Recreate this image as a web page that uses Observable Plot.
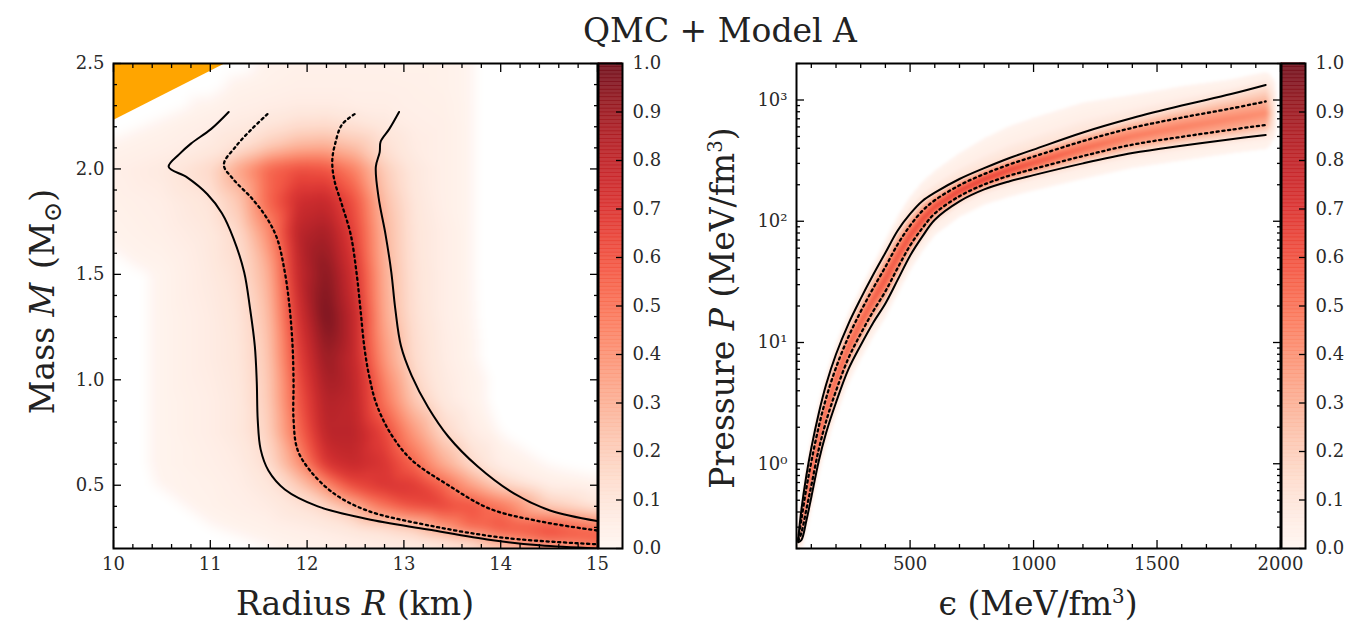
<!DOCTYPE html>
<html><head><meta charset="utf-8">
<script src="https://cdn.jsdelivr.net/npm/d3@7"></script>
<script src="https://cdn.jsdelivr.net/npm/@observablehq/plot@0.6"></script>
<style>
body{margin:0;background:#fff;}
#root{position:relative;width:1353px;height:630px;overflow:hidden;font-family:"DejaVu Serif",serif;color:#222;}
.lbl{position:absolute;font-size:33px;white-space:nowrap;line-height:33px;}
.lbl sup{font-size:0.6em;line-height:0;}
.lbl sub{font-size:0.75em;line-height:0;}
.lbl .par{margin:0 3px;}
svg{max-width:none !important;}
svg text, svg g{font-family:"DejaVu Serif",serif !important;}
svg text{font-size:18px !important;fill:#2a2a2a;}
</style></head><body><div id="root"></div>
<script>
// ---------------- Left panel data: mass-radius ----------------
const rDomain = [10, 15];
const mDomain = [0.2, 2.5];
const rTicks = [10, 11, 12, 13, 14, 15];
const mTicks = [0.5, 1.0, 1.5, 2.0, 2.5];
// density grid (rows = mass, columns = radius)
const rCols = [10, 10.5, 11, 11.3, 11.6, 11.9, 12.2, 12.5, 12.8, 13.1, 13.4, 13.7, 14, 14.5, 15];
const mRows = [2.5, 2.4, 2.3, 2.2, 2.1, 2.0, 1.85, 1.7, 1.5, 1.3, 1.1, 0.9, 0.75, 0.6, 0.5, 0.4, 0.3, 0.25, 0.2];
const mrDensity = [
  [0, 0, 0, 0, 0.02, 0.03, 0.03, 0.03, 0.03, 0.03, 0.03, 0.013, 0, 0, 0],
  [0, 0, 0, 0.02, 0.03, 0.04, 0.04, 0.04, 0.04, 0.035, 0.03, 0.013, 0, 0, 0],
  [0, 0, 0.02, 0.04, 0.05, 0.06, 0.06, 0.05, 0.05, 0.04, 0.035, 0.013, 0, 0, 0],
  [0, 0.02, 0.05, 0.07, 0.1, 0.14, 0.15, 0.12, 0.08, 0.05, 0.04, 0.013, 0, 0, 0],
  [0.02, 0.04, 0.07, 0.12, 0.22, 0.3, 0.32, 0.25, 0.12, 0.06, 0.04, 0.013, 0, 0, 0],
  [0.04, 0.07, 0.15, 0.35, 0.55, 0.62, 0.6, 0.45, 0.2, 0.08, 0.04, 0.013, 0, 0, 0],
  [0.03, 0.05, 0.1, 0.22, 0.55, 0.75, 0.78, 0.6, 0.25, 0.09, 0.04, 0.013, 0, 0, 0],
  [0.02, 0.04, 0.08, 0.15, 0.42, 0.82, 0.88, 0.65, 0.28, 0.1, 0.05, 0.013, 0, 0, 0],
  [0, 0.016, 0.07, 0.12, 0.3, 0.78, 0.96, 0.72, 0.3, 0.11, 0.05, 0.013, 0, 0, 0],
  [0, 0.016, 0.06, 0.1, 0.25, 0.72, 1.0, 0.78, 0.32, 0.12, 0.05, 0.014, 0, 0, 0],
  [0, 0.016, 0.06, 0.09, 0.22, 0.65, 0.92, 0.78, 0.38, 0.14, 0.06, 0.016, 0, 0, 0],
  [0, 0.016, 0.05, 0.08, 0.2, 0.58, 0.85, 0.8, 0.5, 0.22, 0.08, 0.025, 0, 0, 0],
  [0, 0.016, 0.05, 0.08, 0.18, 0.52, 0.82, 0.82, 0.65, 0.38, 0.16, 0.06, 0.01, 0, 0],
  [0, 0.016, 0.04, 0.06, 0.13, 0.38, 0.72, 0.78, 0.72, 0.55, 0.32, 0.14, 0.04, 0.01, 0],
  [0, 0.014, 0.03, 0.05, 0.09, 0.2, 0.42, 0.65, 0.72, 0.7, 0.55, 0.35, 0.18, 0.04, 0.02],
  [0, 0, 0.025, 0.04, 0.06, 0.1, 0.16, 0.3, 0.5, 0.62, 0.66, 0.62, 0.5, 0.2, 0.08],
  [0, 0, 0.01, 0.02, 0.03, 0.05, 0.07, 0.1, 0.13, 0.2, 0.38, 0.55, 0.62, 0.62, 0.5],
  [0, 0, 0, 0.01, 0.02, 0.03, 0.04, 0.06, 0.08, 0.1, 0.14, 0.22, 0.42, 0.6, 0.6],
  [0, 0, 0, 0, 0.01, 0.02, 0.03, 0.04, 0.05, 0.06, 0.08, 0.1, 0.14, 0.25, 0.4]
];
// contour lines
const outerLeftR = [11.19, 11.01, 10.80, 10.68, 10.57, 10.76, 10.97, 11.12, 11.24, 11.35, 11.41, 11.46, 11.48, 11.49, 11.52, 11.60, 11.77, 12.11, 12.62, 13.25, 13.9, 14.4, 15.0];
const outerLeftM = [2.27, 2.19, 2.12, 2.07, 2.01, 1.96, 1.88, 1.79, 1.67, 1.51, 1.34, 1.16, 0.99, 0.81, 0.67, 0.57, 0.48, 0.40, 0.34, 0.29, 0.24, 0.215, 0.2];
const innerLeftR = [11.59, 11.43, 11.27, 11.14, 11.24, 11.43, 11.58, 11.69, 11.77, 11.82, 11.85, 11.86, 11.86, 11.90, 12.03, 12.28, 12.62, 13.25, 14.05, 15.0];
const innerLeftM = [2.26, 2.19, 2.11, 2.02, 1.95, 1.86, 1.77, 1.67, 1.51, 1.34, 1.16, 0.99, 0.81, 0.67, 0.57, 0.46, 0.38, 0.31, 0.25, 0.22];
const innerRightR = [12.49, 12.36, 12.29, 12.26, 12.28, 12.36, 12.45, 12.51, 12.55, 12.59, 12.64, 12.72, 12.87, 13.08, 13.46, 13.88, 14.39, 15.0];
const innerRightM = [2.26, 2.21, 2.12, 2.04, 1.95, 1.83, 1.69, 1.51, 1.34, 1.16, 1.02, 0.88, 0.74, 0.62, 0.50, 0.39, 0.33, 0.285];
const outerRightR = [12.95, 12.85, 12.76, 12.75, 12.71, 12.74, 12.81, 12.87, 12.91, 12.97, 13.08, 13.25, 13.46, 13.76, 14.14, 14.51, 15.0];
const outerRightM = [2.27, 2.19, 2.13, 2.08, 2.01, 1.86, 1.69, 1.51, 1.34, 1.16, 1.02, 0.87, 0.73, 0.59, 0.46, 0.38, 0.33];
// excluded (causality) region
const causalR = [10, 11.16];
const causalM = [2.23, 2.5];

// ---------------- Right panel data: equation of state ----------------
const epsDomain = [40, 2000];
const pDomain = [0.2, 2000];
const epsTicks = [500, 1000, 1500, 2000];
const pTicks = [1, 10, 100, 1000];
const epsGrid      = [47, 60, 80, 100, 130, 160, 200, 250, 300, 350, 400, 450, 500, 550, 600, 700, 800, 900, 1000, 1200, 1400, 1600, 1800, 1940];
const pUpperSolid  = [0.24, 0.42, 0.8, 1.35, 2.6, 4.5, 8.0, 14.2, 23, 36, 55, 84, 115, 147, 172, 223, 274, 331, 390, 540, 710, 900, 1120, 1330];
const pUpperDotted = [0.235, 0.35, 0.63, 1.04, 2.02, 3.48, 6.2, 11.1, 18.0, 27.9, 42, 64.6, 92, 122, 149, 198, 245, 293, 341, 458, 589, 716, 851, 973];
const pLowerDotted = [0.23, 0.27, 0.42, 0.66, 1.31, 2.24, 3.99, 7.4, 11.8, 18.0, 26.4, 41.3, 63, 88, 116, 161, 201, 237, 270, 345, 428, 497, 569, 623];
const pLowerSolid  = [0.225, 0.235, 0.34, 0.53, 1.05, 1.8, 3.2, 6.0, 9.5, 14.5, 21, 33, 52, 75, 103, 146, 183, 213, 240, 300, 365, 420, 475, 515];
// density read across the band at each epsilon
const densCenter = [0.55, 0.6, 0.6, 0.6, 0.58, 0.56, 0.56, 0.56, 0.56, 0.58, 0.6, 0.6, 0.62, 0.64, 0.65, 0.67, 0.68, 0.65, 0.6, 0.53, 0.48, 0.46, 0.44, 0.42];
const densDotted = [0.38, 0.4, 0.4, 0.4, 0.38, 0.37, 0.37, 0.37, 0.37, 0.38, 0.4, 0.4, 0.41, 0.42, 0.43, 0.45, 0.46, 0.44, 0.4, 0.36, 0.33, 0.32, 0.31, 0.29];
const densSolid  = [0.1, 0.1, 0.1, 0.1, 0.1, 0.1, 0.1, 0.1, 0.1, 0.1, 0.11, 0.11, 0.12, 0.12, 0.12, 0.12, 0.12, 0.12, 0.12, 0.11, 0.1, 0.1, 0.1, 0.1];
const densHalo   = [0.025, 0.025, 0.025, 0.025, 0.03, 0.03, 0.03, 0.03, 0.03, 0.03, 0.03, 0.03, 0.035, 0.035, 0.04, 0.04, 0.04, 0.04, 0.04, 0.04, 0.035, 0.035, 0.03, 0.03];
// extent of the faint halo above the upper 95% line (decades of P)
const haloAbove  = [0.12, 0.12, 0.12, 0.12, 0.12, 0.12, 0.12, 0.12, 0.12, 0.12, 0.14, 0.16, 0.18, 0.2, 0.22, 0.26, 0.3, 0.32, 0.32, 0.3, 0.24, 0.2, 0.16, 0.14];
const bandEndEps = 1985;

const cbTicks = [0, 0.1, 0.2, 0.3, 0.4, 0.5, 0.6, 0.7, 0.8, 0.9, 1.0];

// ---------------- build ----------------
const root = document.getElementById("root");
function place(el, left, top) { el.style.position = "absolute"; el.style.left = left + "px"; el.style.top = top + "px"; root.appendChild(el); return el; }
// empty (zero) bins are left white, as in the original
const emptyBelow = 0.012;
const densityInterp = t => t < emptyBelow ? "#ffffff" : d3.interpolateReds(t);
const colorOpt = {type: "linear", domain: [0, 1], interpolate: densityInterp};
const cbColor = {type: "linear", scheme: "reds", domain: [0, 1]};
const FONT = "DejaVu Serif";
const plotStyle = {fontFamily: FONT, fontSize: "18px", color: "#222", background: "transparent", overflow: "visible"};

function frameTicks(xMajor, xMinor, yMajor, yMinor, xFmt, yFmt) {
  const blank = () => "";
  const t = {stroke: "black", strokeWidth: 1.3, label: null, tickFormat: blank};
  const txt = {tickSize: 0, tickPadding: 9, label: null, fontFamily: FONT, fontSize: 18, fill: "#2a2a2a"};
  return [
    Plot.axisX({...t, anchor: "bottom", ticks: xMajor, tickSize: -8}),
    Plot.axisX({...t, anchor: "top", ticks: xMajor, tickSize: -8}),
    Plot.axisX({...t, anchor: "bottom", ticks: xMinor, tickSize: -4}),
    Plot.axisX({...t, anchor: "top", ticks: xMinor, tickSize: -4}),
    Plot.axisY({...t, anchor: "left", ticks: yMajor, tickSize: -8}),
    Plot.axisY({...t, anchor: "right", ticks: yMajor, tickSize: -8}),
    Plot.axisY({...t, anchor: "left", ticks: yMinor, tickSize: -4}),
    Plot.axisY({...t, anchor: "right", ticks: yMinor, tickSize: -4}),
    Plot.axisX({...txt, anchor: "bottom", ticks: xMajor, tickFormat: xFmt}),
    Plot.axisY({...txt, anchor: "left", ticks: yMajor, tickFormat: yFmt})
  ];
}

// left
const leftCells = [];
mRows.forEach((m, i) => rCols.forEach((r, j) => leftCells.push({R: r, M: m, v: mrDensity[i][j]})));
const lineStyle = {x: "x", y: "y", curve: "catmull-rom", stroke: "black", strokeWidth: 2, clip: true};
const dotStyle = {...lineStyle, strokeWidth: 2.3, strokeDasharray: "2.2,3.6"};
const toPts = (xs, ys) => xs.map((x, i) => ({x, y: ys[i]}));
const rMinor = d3.range(10.2, 15, 0.2).filter(v => Math.abs(v - Math.round(v)) > 1e-6);
const mMinor = d3.range(0.3, 2.5, 0.1).filter(v => Math.abs(v * 2 - Math.round(v * 2)) > 1e-6);

const left = Plot.plot({
  width: 600, height: 630, marginLeft: 113, marginRight: 3, marginTop: 63, marginBottom: 82,
  x: {domain: rDomain}, y: {domain: mDomain}, color: colorOpt, style: plotStyle,
  marks: [
    Plot.raster(leftCells, {x: "R", y: "M", fill: "v", interpolate: "barycentric", blur: 5, opacity: 0.92}),
    Plot.areaY(toPts(causalR, causalM), {x: "x", y1: "y", y2: () => mDomain[1], fill: "orange"}),
    Plot.line(toPts(outerLeftR, outerLeftM), lineStyle),
    Plot.line(toPts(innerLeftR, innerLeftM), dotStyle),
    Plot.line(toPts(innerRightR, innerRightM), dotStyle),
    Plot.line(toPts(outerRightR, outerRightM), lineStyle),
    ...frameTicks(rTicks, rMinor, mTicks, mMinor, d => String(d), d => d.toFixed(1)),
    Plot.frame({stroke: "black", strokeWidth: 2})
  ]
});
place(left, 0, 0);

// right: density sampled across the band, between the read line positions
const lg = a => a.map(Math.log10);
const lUS = lg(pUpperSolid), lUD = lg(pUpperDotted), lLD = lg(pLowerDotted), lLS = lg(pLowerSolid);
function bandDensity(e, p) {
  const n = epsGrid.length;
  if (e < epsGrid[0] - 3 || e > bandEndEps) return 0;
  let i, t, fade = 1;
  if (e >= epsGrid[n - 1]) { i = n - 2; t = 1; fade = 1 - (e - epsGrid[n - 1]) / (bandEndEps - epsGrid[n - 1]); }
  else if (e < epsGrid[0]) { i = 0; t = 0; fade = (e - epsGrid[0] + 3) / 3; }
  else { i = Math.min(n - 2, d3.bisectRight(epsGrid, e) - 1); t = (e - epsGrid[i]) / (epsGrid[i + 1] - epsGrid[i]); }
  const L = a => a[i] + (a[i + 1] - a[i]) * t;
  const us = L(lUS), ud = L(lUD), ld = L(lLD), ls = L(lLS), mid = (ud + ld) / 2, ha = L(haloAbove);
  const y = Math.log10(p);
  const ys = [ls - 0.16, ls - 0.05, ls, ld, mid, ud, us, us + ha * 0.4, us + ha];
  const vs = [0, L(densHalo), L(densSolid), L(densDotted), L(densCenter), L(densDotted), L(densSolid), L(densHalo), 0];
  if (y <= ys[0] || y >= ys[8]) return 0;
  const k = Math.min(7, d3.bisectRight(ys, y) - 1);
  const span = ys[k + 1] - ys[k];
  const u = span > 0 ? (y - ys[k]) / span : 0;
  return fade * (vs[k] + (vs[k + 1] - vs[k]) * u);
}

const epsMinor = d3.range(100, 2000, 100).filter(v => v % 500 !== 0);
const pMinor = [];
[0.1, 1, 10, 100, 1000].forEach(dec => [2, 3, 4, 5, 6, 7, 8, 9].forEach(k => { const v = k * dec; if (v >= pDomain[0] && v <= pDomain[1]) pMinor.push(v); }));
const supers = {"0": "⁰", "1": "¹", "2": "²", "3": "³"};
const epsLine = (arr) => epsGrid.map((e, i) => ({x: e, y: arr[i]}));

const right = Plot.plot({
  width: 603, height: 630, marginLeft: 116, marginRight: 3, marginTop: 63, marginBottom: 82,
  x: {domain: epsDomain}, y: {type: "log", domain: pDomain}, color: colorOpt, style: plotStyle,
  marks: [
    Plot.raster({fill: bandDensity, x1: epsDomain[0], x2: epsDomain[1], y1: pDomain[0], y2: pDomain[1], blur: 1, opacity: 0.92}),
    Plot.line(epsLine(pUpperSolid), lineStyle),
    Plot.line(epsLine(pUpperDotted), dotStyle),
    Plot.line(epsLine(pLowerDotted), dotStyle),
    Plot.line(epsLine(pLowerSolid), lineStyle),
    ...frameTicks(epsTicks, epsMinor, pTicks, pMinor, d => String(d), d => "10" + supers[String(Math.round(Math.log10(d)))]),
    Plot.frame({stroke: "black", strokeWidth: 2})
  ]
});
place(right, 680, 0);

// colorbars
const cbN = 128;
const cbLevels = d3.range(cbN).map(i => i / cbN);
function colorbar() {
  return Plot.plot({
    width: 80, height: 630, marginLeft: 1, marginRight: 55, marginTop: 63, marginBottom: 82,
    y: {domain: [0, 1]}, color: cbColor, style: plotStyle,
    marks: [
      Plot.rect(cbLevels, {y1: d => d, y2: d => d + 1 / cbN, fill: d => d + 0.5 / cbN, fillOpacity: 0.85, insetTop: -0.7}),
      Plot.axisY({anchor: "right", ticks: cbTicks, tickSize: -7, tickFormat: () => "", label: null, stroke: "black", strokeWidth: 1.3}),
      Plot.axisY({anchor: "right", ticks: cbTicks, tickSize: 0, tickPadding: 10, tickFormat: d => d.toFixed(1), label: null, fontFamily: FONT, fontSize: 18, fill: "#2a2a2a"}),
      Plot.frame({stroke: "black", strokeWidth: 2})
    ]
  });
}
place(colorbar(), 597, 0);
place(colorbar(), 1280, 0);

// text
function label(html, x, y, rotate, size) {
  const d = document.createElement("div");
  d.className = "lbl";
  d.innerHTML = html;
  if (size) { d.style.fontSize = size + "px"; d.style.lineHeight = size + "px"; }
  d.style.left = x + "px"; d.style.top = y + "px";
  d.style.transform = rotate ? "translate(-50%,-50%) rotate(-90deg)" : "translateX(-50%)";
  root.appendChild(d);
}
label("QMC + Model A", 720, 14, false, 33);
label("Radius <i>R</i> (km)", 355, 587, false);
label("ϵ (MeV/fm<sup>3</sup>)", 1038, 587, false);
label("Mass <i>M</i> <span class='par'>(M<sub>⊙</sub>)</span>", 42, 300, true);
label("Pressure <i>P</i> (MeV/fm<sup>3</sup>)", 722, 308, true);
</script></body></html>
